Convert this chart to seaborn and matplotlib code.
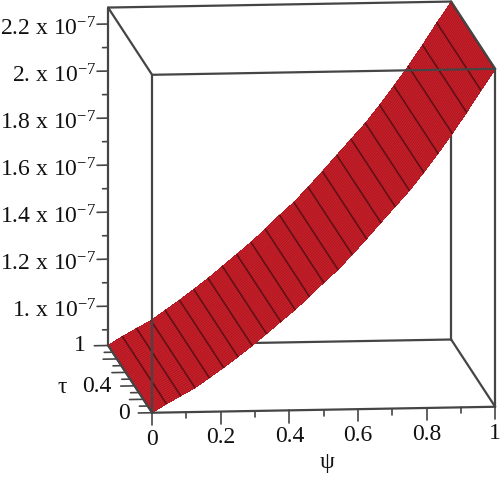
import numpy as np
import seaborn as sns
import matplotlib.pyplot as plt
from mpl_toolkits.mplot3d import proj3d

sns.set_theme(style="white")
plt.rcParams['font.family'] = ['Liberation Serif', 'DejaVu Serif']
plt.rcParams['mathtext.fontset'] = 'custom'
plt.rcParams['mathtext.rm'] = 'Liberation Serif'
plt.rcParams['mathtext.default'] = 'rm'

# surface height at each psi (units of 1e-7), it does not change along tau
psi = [k / 24 for k in range(25)]
height = [0.833, 0.870, 0.903, 0.936, 0.978, 1.020, 1.065, 1.111, 1.161,
          1.211, 1.261, 1.316, 1.374, 1.428, 1.491, 1.557, 1.625, 1.692,
          1.759, 1.835, 1.915, 1.998, 2.087, 2.180, 2.268]
tau_edges = [0, 1]

z_ticks = [1.0, 1.2, 1.4, 1.6, 1.8, 2.0, 2.2]
z_minor = [0.9, 1.1, 1.3, 1.5, 1.7, 1.9, 2.1]
z_labels = ["1.", "1.2", "1.4", "1.6", "1.8", "2.", "2.2"]
psi_ticks = [0, 0.2, 0.4, 0.6, 0.8, 1]
psi_minor = [0.1, 0.3, 0.5, 0.7, 0.9]
psi_labels = ["0", "0.2", "0.4", "0.6", "0.8", "1"]
tau_ticks = [0, 0.2, 0.4, 0.6, 0.8, 1]
tau_minor = [0.1, 0.3, 0.5, 0.7, 0.9]
tau_labels = {0: "0", 0.4: "0.4", 1: "1"}

z_lo, z_hi = 0.833, 2.27
z_span = z_hi - z_lo

red = "#cc1f29"
stripe = "#8c141e"
rung = "#5a0f14"
frame = "#454545"

fig = plt.figure(figsize=(5, 4.78), dpi=100)
ax = fig.add_axes([-0.034, -0.0994, 1.241, 1.297], projection="3d",
                  proj_type="ortho", computed_zorder=False)
ax.view_init(elev=9.4, azim=-96.1)
ax.set_box_aspect((345, 414, 342.5))
ax.set_xlim(0, 1)
ax.set_ylim(0, 1)
ax.set_zlim(z_lo, z_hi)
ax.set_axis_off()

# surface
P, T = np.meshgrid(psi, tau_edges)
Z = np.tile(height, (2, 1))
ax.plot_surface(P, T, Z, color=red, shade=False, linewidth=0, rstride=1,
                cstride=1, antialiased=False, zorder=2)

# fine mesh lines along psi, then the darker ones across tau
for t in np.linspace(0, 1, 41):
    ax.plot(psi, [t] * len(psi), height, color=stripe, lw=0.5, alpha=0.7, zorder=3)
for p, h in zip(psi, height):
    ax.plot([p, p], [0, 1], [h, h], color=rung, lw=1.2, alpha=0.9, zorder=3)


def edge(x, y, z, zorder, lw=1.6):
    ax.plot(x, y, z, color=frame, lw=lw, solid_capstyle="round", zorder=zorder)


def label(x, y, z, text, **kw):
    # text goes on through the 3d projection but stays a plain 2d artist
    px, py, _ = proj3d.proj_transform(x, y, z, ax.get_proj())
    ax.text2D(px, py, text, transform=ax.transData, va="center", fontsize=17,
              color="#111111", clip_on=False, **kw)


# box: back edges under the surface, front edges over it
edge([0, 1], [1, 1], [z_lo, z_lo], 1)
edge([1, 1], [1, 1], [z_lo, z_hi], 1)
edge([0, 1], [1, 1], [z_hi, z_hi], 1)
edge([0, 0], [1, 1], [z_lo, z_hi], 1)
edge([0, 0], [0, 1], [z_hi, z_hi], 1)
edge([1, 1], [0, 1], [z_lo, z_lo], 1)
edge([1, 1], [0, 1], [z_hi, z_hi], 4)
edge([0, 0], [0, 1], [z_lo, z_lo], 4)
edge([0, 1], [0, 0], [z_lo, z_lo], 4)
edge([0, 0], [0, 0], [z_lo, z_hi], 4)
edge([1, 1], [0, 0], [z_lo, z_hi], 4)
edge([0, 1], [0, 0], [z_hi, z_hi], 4)

# z axis on the back left edge, labels sit a little under their ticks
for v, lab in zip(z_ticks, z_labels):
    edge([-0.032, 0], [1, 1], [v, v], 4, lw=1.2)
    label(-0.034, 1, v - 0.021, lab + " x 10$^{-7}$", ha="right")
for v in z_minor:
    edge([-0.016, 0], [1, 1], [v, v], 4, lw=1.2)

# psi axis along the front
for v, lab in zip(psi_ticks, psi_labels):
    edge([v, v], [0, 0], [z_lo - 0.036 * z_span, z_lo], 4, lw=1.2)
    label(v, 0, z_lo - 0.078 * z_span, lab, ha="center")
for v in psi_minor:
    edge([v, v], [0, 0], [z_lo - 0.018 * z_span, z_lo], 4, lw=1.2)
label(0.51, 0, z_lo - 0.157 * z_span, "ψ", ha="center")

# tau axis on the lower left edge
for v in tau_ticks:
    edge([-0.04, 0], [v, v], [z_lo, z_lo], 4, lw=1.2)
    if v in tau_labels:
        label(-0.066, v, z_lo, tau_labels[v], ha="right")
for v in tau_minor:
    edge([-0.024, 0], [v, v], [z_lo, z_lo], 4, lw=1.2)
label(-0.198, 0.4, z_lo, "τ", ha="right")

fig.savefig("out.png", dpi=100)
